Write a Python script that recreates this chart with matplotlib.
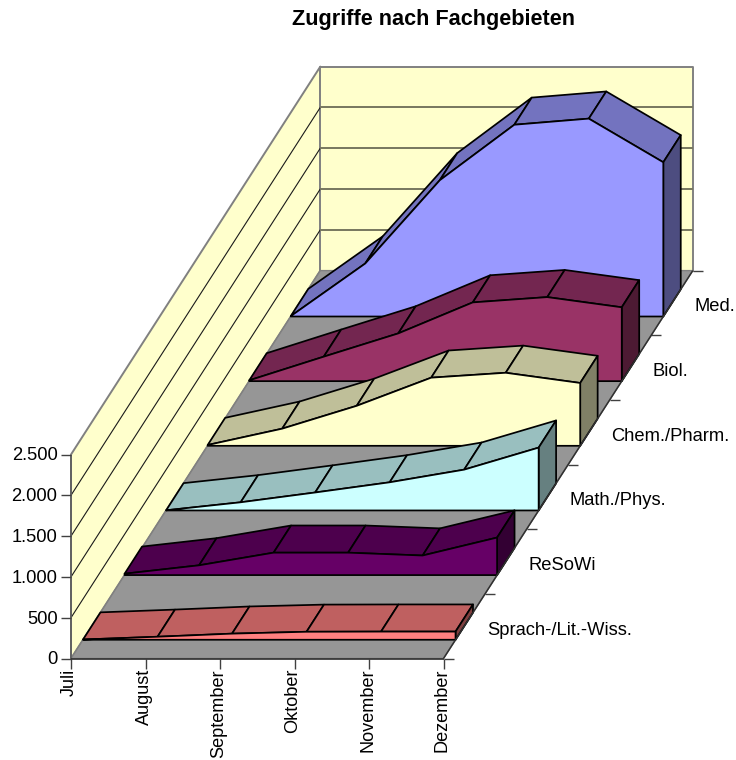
import matplotlib
matplotlib.use("Agg")
import matplotlib.pyplot as plt
from matplotlib.patches import Polygon

plt.rcParams['font.family'] = ['Liberation Sans', 'DejaVu Sans']

title = "Zugriffe nach Fachgebieten"
months = ["Juli", "August", "September", "Oktober", "November", "Dezember"]
y_ticks = [0, 500, 1000, 1500, 2000, 2500]
y_labels = ["0", "500", "1.000", "1.500", "2.000", "2.500"]
series_names = ["Sprach-/Lit.-Wiss.", "ReSoWi", "Math./Phys.", "Chem./Pharm.", "Biol.", "Med."]

sprach = [3, 37, 75, 98, 100, 100]
resowi = [17, 120, 275, 275, 240, 460]
math_phys = [2, 100, 220, 345, 500, 770]
chem = [10, 210, 490, 835, 895, 770]
biol = [10, 300, 585, 965, 1030, 905]
med = [5, 650, 1670, 2350, 2425, 1890]
series_values = [sprach, resowi, math_phys, chem, biol, med]

front_colors = ["#FF8080", "#660066", "#CCFFFF", "#FFFFCC", "#993366", "#9999FF"]
top_colors = ["#BF6060", "#4D004D", "#99BFBF", "#BFBF99", "#732650", "#7373BF"]
side_colors = ["#804040", "#330033", "#668080", "#808066", "#4D1A33", "#4D4D80"]

# oblique projection (month, depth, value) -> pixel position
X0, Y0 = 71.0, 658.5
MONTH_DX = 74.5
DEPTH_DX, DEPTH_DY = 41.55, -64.65
VALUE_DY = -204.0 / 2500.0
GAP, BAND = 0.29, 0.42
N_M = len(months) - 1
N_D = len(series_names)
V_MAX = y_ticks[-1]


def P(m, d, v=0.0):
    return (X0 + m * MONTH_DX + d * DEPTH_DX, Y0 + d * DEPTH_DY + v * VALUE_DY)


fig = plt.figure(figsize=(7.36, 7.60), dpi=100, facecolor="white")
ax = fig.add_axes([0, 0, 1, 1])
ax.set_xlim(0, 736)
ax.set_ylim(760, 0)
ax.axis("off")

WALL = "#FFFFCC"
FLOOR = "#969696"
EDGE = "#808080"
LW = 1.25


def poly(pts, fc, ec="black", lw=LW, z=2):
    ax.add_patch(Polygon(pts, closed=True, facecolor=fc, edgecolor=ec, linewidth=lw,
                         joinstyle="round", zorder=z))


def line(a, b, c="black", lw=LW, z=2):
    ax.plot([a[0], b[0]], [a[1], b[1]], color=c, lw=lw, solid_capstyle="butt", zorder=z)


# walls and floor
poly([P(0, 0), P(0, 0, V_MAX), P(0, N_D, V_MAX), P(0, N_D)], WALL, EDGE, 1.4, 1)
poly([P(0, N_D), P(0, N_D, V_MAX), P(N_M, N_D, V_MAX), P(N_M, N_D)], WALL, EDGE, 1.4, 1)
poly([P(0, 0), P(N_M, 0), P(N_M, N_D), P(0, N_D)], FLOOR, EDGE, 1.0, 1)

for v in y_ticks[1:-1]:
    line(P(0, 0, v), P(0, N_D, v), "#1a1a1a", 0.8, 1.5)
    line(P(0, N_D, v), P(N_M, N_D, v), "#77775f", 1.4, 1.5)

# axes, ticks and labels
line(P(0, 0), P(0, 0, V_MAX), "#606060", 1.3, 1.6)
for v, lab in zip(y_ticks, y_labels):
    x, y = P(0, 0, v)
    line((x - 10, y), (x, y), "#404040", 1.0, 1.6)
    ax.text(x - 13.5, y + 1.5, lab, ha="right", va="center", fontsize=13.2, color="black")

for m, lab in enumerate(months):
    x, y = P(m, 0)
    line((x, y), (x, y + 10), "#404040", 1.0, 1.6)
    ax.text(x - 1.5, y + 10.5, lab, rotation=90, ha="center", va="top", fontsize=13.1, color="black")

for d in range(N_D + 1):
    x, y = P(N_M, d)
    line((x, y), (x + 10, y), "#404040", 1.0, 1.6)

for d, lab in enumerate(series_names):
    x, y = P(N_M, d + 0.5)
    ax.text(x + 22.5, y + 4, lab, ha="left", va="center", fontsize=13.2, color="black")

# area bands, back to front
for d in range(N_D - 1, -1, -1):
    vals = series_values[d]
    front = d + GAP
    back = front + BAND
    z = 10 + (N_D - d) * 2
    for m in range(N_M):
        poly([P(m, front, vals[m]), P(m + 1, front, vals[m + 1]),
              P(m + 1, back, vals[m + 1]), P(m, back, vals[m])], top_colors[d], z=z)
    poly([P(N_M, front), P(N_M, front, vals[-1]), P(N_M, back, vals[-1]), P(N_M, back)],
         side_colors[d], z=z)
    pts = [P(0, front)] + [P(m, front, v) for m, v in enumerate(vals)] + [P(N_M, front)]
    poly(pts, front_colors[d], z=z + 1)

line(P(0, 0), P(N_M, 0), "#303030", 1.2, 40)
line(P(N_M, 0), P(N_M, N_D), "#303030", 1.1, 40)

ax.text(434, 20, title, ha="center", va="center", fontsize=15.6, fontweight="bold", color="black")

fig.savefig("out.png", dpi=100, facecolor="white")
